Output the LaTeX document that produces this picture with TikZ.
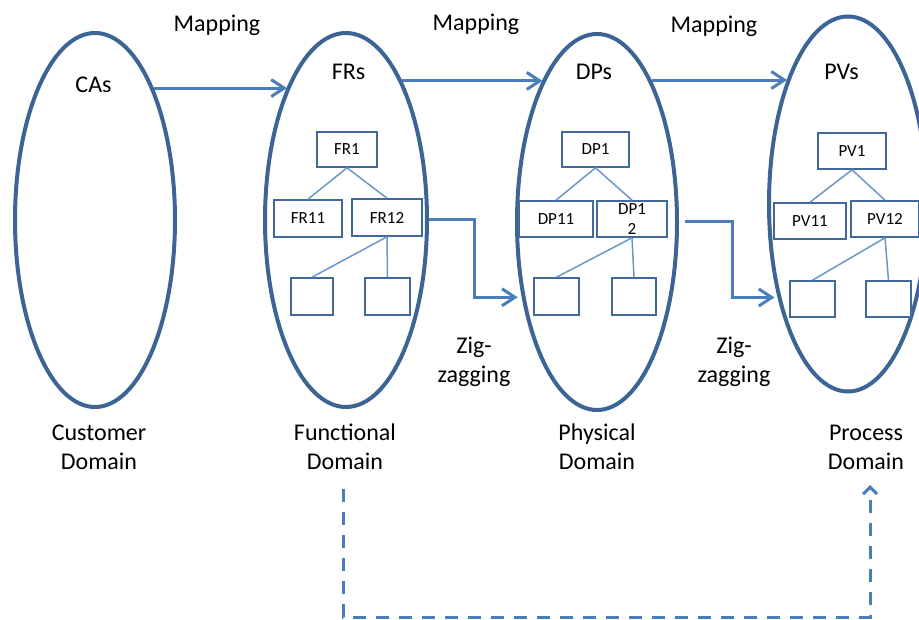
\documentclass[tikz,border=0pt]{standalone}
\usepackage{fontspec}
\setmainfont{Carlito}
\usetikzlibrary{shapes.geometric,arrows.meta}

\definecolor{domline}{HTML}{3C6494}
\definecolor{flow}{HTML}{4A7EBB}
\definecolor{boxline}{HTML}{41699A}
\definecolor{treeline}{HTML}{6C96C9}

\begin{document}
\begin{tikzpicture}[x=1pt,y=-1pt,
  domainshape/.style={ellipse, draw=domline, line width=4pt, inner sep=0pt},
  lbl/.style={font=\fontsize{24}{29}\selectfont, align=center, inner sep=0pt},
  reqbox/.style={draw=boxline, line width=1.6pt, fill=white, inner sep=0pt,
    font=\fontsize{17}{20}\selectfont, align=center},
  treeedge/.style={draw=treeline, line width=1.5pt},
  arr/.style={draw=flow, line width=3pt,
    -{Straight Barb[length=13pt,width=17pt]}},
  backlink/.style={draw=flow, line width=3pt, dash pattern=on 13pt off 10pt,
    -{Straight Barb[length=7pt,width=14pt]}}
]
\useasboundingbox (0,0) rectangle (919,620);

% the four domains
\node[domainshape, minimum width=160pt, minimum height=374pt] (ca) at (95,220) {};
\node[domainshape, minimum width=162pt, minimum height=374pt] (fr) at (346,220) {};
\node[domainshape, minimum width=160pt, minimum height=376pt] (dp) at (597,222) {};
\node[domainshape, minimum width=158pt, minimum height=375pt] (pv) at (848,204) {};

% domain headings
\node[lbl, anchor=base] (caT) at (93.5,93) {CAs};
\node[lbl, anchor=base] (frT) at (348.5,80) {FRs};
\node[lbl, anchor=base] (dpT) at (594,80) {DPs};
\node[lbl, anchor=base] (pvT) at (841.5,80) {PVs};

% mapping labels
\node[lbl, anchor=base] (map1) at (217,32) {Mapping};
\node[lbl, anchor=base] (map2) at (476,31) {Mapping};
\node[lbl, anchor=base] (map3) at (714,33) {Mapping};

% domain names
\node[lbl] (cdom) at (99,447) {Customer\\Domain};
\node[lbl] (fdom) at (345,447) {Functional\\Domain};
\node[lbl] (pdom) at (597,447) {Physical\\Domain};
\node[lbl] (prdom) at (866,447) {Process\\Domain};

% zig-zagging labels
\node[lbl] (zz1) at (474,362) {Zig-\\zagging};
\node[lbl] (zz2) at (734,362) {Zig-\\zagging};

% FR hierarchy
\node[reqbox, minimum width=60pt, minimum height=35pt] (fr1) at (347,149.5) {FR1};
\node[reqbox, minimum width=68pt, minimum height=37pt] (fr11) at (308,218.5) {FR11};
\node[reqbox, minimum width=70pt, minimum height=37pt] (fr12) at (387,217.5) {FR12};
\node[reqbox, minimum width=42pt, minimum height=37pt] (fra) at (312,296.5) {};
\node[reqbox, minimum width=45pt, minimum height=37pt] (frb) at (387.5,296.5) {};
\draw[treeedge] (fr1.south) -- (fr11.north);
\draw[treeedge] (fr1.south) -- (fr12.north);
\draw[treeedge] (fr12.south) -- (fra.north);
\draw[treeedge] (fr12.south) -- (frb.north);

% DP hierarchy
\node[reqbox, minimum width=67pt, minimum height=35pt] (dp1) at (595.5,149.5) {DP1};
\node[reqbox, minimum width=74pt, minimum height=36pt] (dp11) at (556,219) {DP11};
\node[reqbox, minimum width=70pt, minimum height=36pt] (dp12) at (632,219) {DP1\\2};
\node[reqbox, minimum width=45pt, minimum height=37pt] (dpa) at (556.5,296.5) {};
\node[reqbox, minimum width=44pt, minimum height=37pt] (dpb) at (634,296.5) {};
\draw[treeedge] (dp1.south) -- (dp11.north);
\draw[treeedge] (dp1.south) -- (dp12.north);
\draw[treeedge] (dp12.south) -- (dpa.north);
\draw[treeedge] (dp12.south) -- (dpb.north);

% PV hierarchy
\node[reqbox, minimum width=68pt, minimum height=36pt] (pv1) at (852,151) {PV1};
\node[reqbox, minimum width=72pt, minimum height=36pt] (pv11) at (810,221) {PV11};
\node[reqbox, minimum width=68pt, minimum height=36pt] (pv12) at (885,219) {PV12};
\node[reqbox, minimum width=45pt, minimum height=36pt] (pva) at (812.5,299) {};
\node[reqbox, minimum width=45pt, minimum height=36pt] (pvb) at (888.5,299) {};
\draw[treeedge] (pv1.south) -- (pv11.north);
\draw[treeedge] (pv1.south) -- (pv12.north);
\draw[treeedge] (pv12.south) -- (pva.north);
\draw[treeedge] (pv12.south) -- (pvb.north);

% mapping arrows between domains
\draw[arr] (ca.66) -- (fr.114 |- ca.66);
\draw[arr] (fr.68) -- (dp.111 |- fr.68);
\draw[arr] (dp.69) -- (pv.116 |- dp.69);

% zig-zagging arrows
\draw[arr, shorten >=4pt] (fr.east) -- ++(45,0) |- (dp.225);
\draw[arr, shorten <=6pt, shorten >=3pt] (dp.east) -- ++(53,0) |- (pv.233);

% dashed link from the functional to the process domain
\coordinate (loopA) at (343,489);
\coordinate (loopB) at (870,485);
\draw[backlink] (loopA) -- (loopA |- 0,617) -| (loopB);
\end{tikzpicture}
\end{document}
